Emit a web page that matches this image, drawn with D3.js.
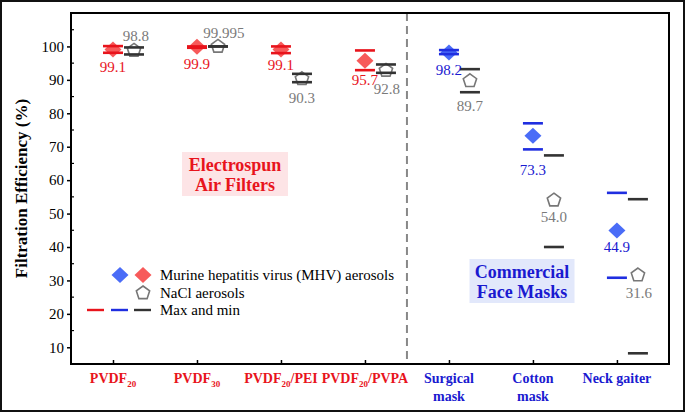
<!DOCTYPE html>
<html>
<head>
<meta charset="utf-8">
<script src="https://cdn.jsdelivr.net/npm/d3@7"></script>
<style>
  body { margin: 0; background: #fff; }
  svg text { font-family: "Liberation Serif", "Times New Roman", serif; }
</style>
</head>
<body>
<svg id="chart" width="686" height="413"></svg>
<script>
// categories (use _{..} for subscripts, \n for a line break)
var categories = ["PVDF_{20}", "PVDF_{30}", "PVDF_{20}/PEI", "PVDF_{20}/PVPA", "Surgical\nmask", "Cotton\nmask", "Neck gaiter"];
var groupType = ["air", "air", "air", "air", "mask", "mask", "mask"];

// MHV aerosol filtration efficiency
var mhvMean = [99.1, 99.9, 99.1, 95.7, 98.2, 73.3, 44.9];
var mhvMax  = [100.1, 100.0, 100.0, 98.8, 98.9, 77.0, 56.2];
var mhvMin  = [98.1, 99.6, 98.0, 92.9, 97.7, 69.2, 30.8];

// NaCl aerosol filtration efficiency
var naclMean = [98.8, 99.995, 90.3, 92.8, 89.7, 54.0, 31.6];
var naclMax  = [99.7, 100.0, 91.8, 94.6, 93.2, 67.4, 54.3];
var naclMin  = [97.6, 99.99, 89.3, 92.1, 86.3, 40.0, 8.2];
var naclText = ["98.8", "99.995", "90.3", "92.8", "89.7", "54.0", "31.6"];

var yTicks = [10, 20, 30, 40, 50, 60, 70, 80, 90, 100];

// label placement (pixels, relative to the marker)
var mhvLabelDy  = [23, 22, 21, 24, 23, 39, 21];
var naclLabelDx = [2, 6, 0, 1, 0, 0, 1];
var naclLabelDy = [-9, -8, 24, 24, 30, 22, 23];

var colors = {
  air:  { mark: "#f75a5a", bar: "#e8141c", text: "#e8141c" },
  mask: { mark: "#4a6cf7", bar: "#1f2ee0", text: "#1a1ad0" },
  nacl: { mark: "#777", bar: "#333", text: "#7a7a7a" }
};

var svg = d3.select("#chart");
var plotL = 71, plotR = 669, plotT = 13, plotB = 364;

var x = d3.scaleLinear().domain([0.5, 7.62]).range([plotL, plotR]);
var y = d3.scaleLinear().domain([5, 110]).range([plotB, plotT]);
var naclOffset = 0.25;

// outer border of the figure
svg.append("rect").attr("x", 1).attr("y", 1).attr("width", 683).attr("height", 410)
  .attr("fill", "none").attr("stroke", "#111").attr("stroke-width", 2);

// y axis: major ticks outside, minor inside
var yAxis = d3.axisLeft(y).tickValues(yTicks).tickSize(4).tickPadding(3);
var gy = svg.append("g").attr("transform", "translate(" + plotL + ",0)").call(yAxis);
gy.select(".domain").remove();
gy.selectAll("line").attr("stroke", "#000").attr("stroke-width", 1.5);
gy.selectAll("text").attr("font-size", 15).attr("fill", "#000")
  .style("font-family", "Liberation Serif, serif");

var minor = d3.range(15, 110, 10);
svg.append("g").selectAll("line").data(minor).enter().append("line")
  .attr("x1", plotL).attr("x2", plotL + 3)
  .attr("y1", function(d) { return y(d); }).attr("y2", function(d) { return y(d); })
  .attr("stroke", "#000").attr("stroke-width", 1.2);

// x axis ticks, pointing inward
var xAxis = d3.axisBottom(x).tickValues(d3.range(1, 8)).tickSize(-4).tickFormat("");
var gx = svg.append("g").attr("transform", "translate(0," + plotB + ")").call(xAxis);
gx.select(".domain").remove();
gx.selectAll("line").attr("stroke", "#000").attr("stroke-width", 1.5);

// category labels
categories.forEach(function(c, i) {
  var lines = c.split("\n");
  var col = colors[groupType[i]].text;
  lines.forEach(function(line, li) {
    var t = svg.append("text")
      .attr("x", x(i + 1)).attr("y", 383 + li * 18)
      .attr("text-anchor", "middle").attr("font-size", 14).attr("font-weight", "bold")
      .attr("fill", col);
    var parts = line.split(/(_\{[^}]*\})/);
    var shifted = false;
    parts.forEach(function(p) {
      if (!p) return;
      var m = p.match(/^_\{(.*)\}$/);
      if (m) {
        t.append("tspan").attr("font-size", 9).attr("dy", 4).text(m[1]);
        shifted = true;
      } else {
        t.append("tspan").attr("dy", shifted ? -4 : 0).text(p);
        shifted = false;
      }
    });
  });
});

// dashed divider
svg.append("line").attr("x1", x(4.5)).attr("x2", x(4.5)).attr("y1", plotT).attr("y2", plotB)
  .attr("stroke", "#888").attr("stroke-width", 2).attr("stroke-dasharray", "8,5");

// group boxes
function infoBox(cx, y0, w, h, fill, col, lines) {
  svg.append("rect").attr("x", cx - w / 2).attr("y", y0).attr("width", w).attr("height", h)
    .attr("fill", fill);
  lines.forEach(function(l, i) {
    svg.append("text").attr("x", cx).attr("y", y0 + 19 + i * 20)
      .attr("text-anchor", "middle").attr("font-size", 18).attr("font-weight", "bold")
      .attr("fill", col).text(l);
  });
}
infoBox(235, 152, 106, 44, "#fde4e6", "#e8141c", ["Electrospun", "Air Filters"]);
infoBox(522, 259, 105, 44, "#e2e8fb", "#1a1ad0", ["Commercial", "Face Masks"]);

// marker shapes
function diamondPath(w, h) {
  return "M0," + (-h) + "L" + w + ",0L0," + h + "L" + (-w) + ",0Z";
}
function pentagonPath(r) {
  var pts = d3.range(5).map(function(k) {
    var a = -Math.PI / 2 + k * 2 * Math.PI / 5;
    return [r * Math.cos(a), r * Math.sin(a)];
  });
  return "M" + pts.map(function(p) { return p[0].toFixed(2) + "," + p[1].toFixed(2); }).join("L") + "Z";
}

var barHalf = 10;
var marks = svg.append("g");

// MHV diamonds
marks.selectAll(".mhv").data(mhvMean).enter().append("path")
  .attr("d", diamondPath(8.5, 8))
  .attr("transform", function(d, i) { return "translate(" + x(i + 1) + "," + y(d) + ")"; })
  .attr("fill", function(d, i) { return colors[groupType[i]].mark; });

// NaCl pentagons
marks.selectAll(".nacl").data(naclMean).enter().append("path")
  .attr("d", pentagonPath(7))
  .attr("transform", function(d, i) { return "translate(" + x(i + 1 + naclOffset) + "," + y(d) + ")"; })
  .attr("fill", "#fff").attr("stroke", colors.nacl.mark).attr("stroke-width", 1.6);

// max and min bars
function bars(vals, off, colFn) {
  marks.append("g").selectAll("line").data(vals).enter().append("line")
    .attr("x1", function(d, i) { return x(i + 1 + off) - barHalf; })
    .attr("x2", function(d, i) { return x(i + 1 + off) + barHalf; })
    .attr("y1", function(d) { return y(d); }).attr("y2", function(d) { return y(d); })
    .attr("stroke", colFn).attr("stroke-width", 2.6);
}
var mhvCol = function(d, i) { return colors[groupType[i]].bar; };
bars(mhvMax, 0, mhvCol);
bars(mhvMin, 0, mhvCol);
bars(naclMax, naclOffset, colors.nacl.bar);
bars(naclMin, naclOffset, colors.nacl.bar);

// value labels
svg.append("g").selectAll("text").data(mhvMean).enter().append("text")
  .attr("x", function(d, i) { return x(i + 1); })
  .attr("y", function(d, i) { return y(d) + mhvLabelDy[i]; })
  .attr("text-anchor", "middle").attr("font-size", 15)
  .attr("fill", function(d, i) { return colors[groupType[i]].text; })
  .text(function(d) { return d3.format(".1f")(d); });

svg.append("g").selectAll("text").data(naclMean).enter().append("text")
  .attr("x", function(d, i) { return x(i + 1 + naclOffset) + naclLabelDx[i]; })
  .attr("y", function(d, i) { return y(d) + naclLabelDy[i]; })
  .attr("text-anchor", "middle").attr("font-size", 15)
  .attr("fill", colors.nacl.text)
  .text(function(d, i) { return naclText[i]; });

// y axis title
svg.append("text").attr("transform", "translate(27," + ((plotT + plotB) / 2) + ") rotate(-90)")
  .attr("text-anchor", "middle").attr("font-size", 17).attr("font-weight", "bold")
  .attr("fill", "#000").text("Filtration Efficiency (%)");

// legend
var lg = svg.append("g");
lg.append("path").attr("d", diamondPath(8.5, 8)).attr("transform", "translate(120,275)").attr("fill", colors.mask.mark);
lg.append("path").attr("d", diamondPath(8.5, 8)).attr("transform", "translate(143,275)").attr("fill", colors.air.mark);
lg.append("path").attr("d", pentagonPath(7)).attr("transform", "translate(143,293)")
  .attr("fill", "#fff").attr("stroke", colors.nacl.mark).attr("stroke-width", 1.6);
[[87, colors.air.bar], [111, colors.mask.bar], [134, colors.nacl.bar]].forEach(function(s) {
  lg.append("line").attr("x1", s[0]).attr("x2", s[0] + 17).attr("y1", 310).attr("y2", 310)
    .attr("stroke", s[1]).attr("stroke-width", 2.4);
});
[["Murine hepatitis virus (MHV) aerosols", 275], ["NaCl aerosols", 293], ["Max and min", 310]].forEach(function(t) {
  lg.append("text").attr("x", 160).attr("y", t[1] + 5).attr("font-size", 15).attr("fill", "#000").text(t[0]);
});

// plot frame
svg.append("rect").attr("x", plotL).attr("y", plotT).attr("width", plotR - plotL).attr("height", plotB - plotT)
  .attr("fill", "none").attr("stroke", "#000").attr("stroke-width", 2);
</script>
</body>
</html>
